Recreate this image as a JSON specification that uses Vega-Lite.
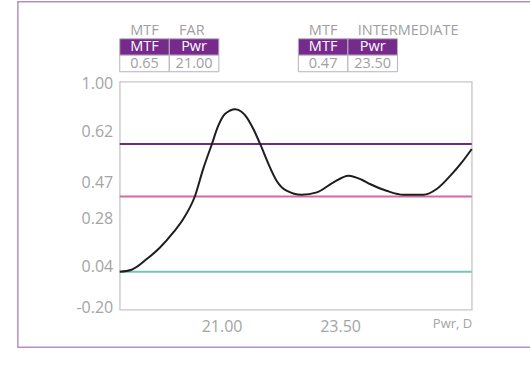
{
  "$schema": "https://vega.github.io/schema/vega-lite/v6.json",
  "padding": {"left": 15.75, "top": 0.25, "right": 0, "bottom": 0},
  "bounds": "flush",
  "spacing": 9.5,
  "config": {
    "font": "Open Sans",
    "view": {"stroke": "#c6c6c6", "strokeWidth": 1.3},
    "axis": {"grid": false, "ticks": false, "domain": false, "labelColor": "#a4a4a4", "labelFontSize": 16, "labelFont": "Open Sans", "labelFlush": false}
  },
  "datasets": {
    "tables": [
      {"table": "FAR", "col": "MTF", "row": "title", "label": "MTF"},
      {"table": "FAR", "col": "Pwr", "row": "title", "label": "FAR"},
      {"table": "FAR", "col": "MTF", "row": "head", "label": "MTF"},
      {"table": "FAR", "col": "Pwr", "row": "head", "label": "Pwr"},
      {"table": "FAR", "col": "MTF", "row": "value", "label": "0.65"},
      {"table": "FAR", "col": "Pwr", "row": "value", "label": "21.00"},
      {"table": "INTERMEDIATE", "col": "MTF", "row": "title", "label": "MTF"},
      {"table": "INTERMEDIATE", "col": "Pwr", "row": "title", "label": "INTERMEDIATE"},
      {"table": "INTERMEDIATE", "col": "MTF", "row": "head", "label": "MTF"},
      {"table": "INTERMEDIATE", "col": "Pwr", "row": "head", "label": "Pwr"},
      {"table": "INTERMEDIATE", "col": "MTF", "row": "value", "label": "0.47"},
      {"table": "INTERMEDIATE", "col": "Pwr", "row": "value", "label": "23.50"}
    ],
    "levels": [
      {"level": "far", "mtf": 0.678},
      {"level": "intermediate", "mtf": 0.396},
      {"level": "near", "mtf": -0.008}
    ],
    "curve": [
      {"pwr": 18.85, "mtf": -0.008},
      {"pwr": 19.10, "mtf": 0.003},
      {"pwr": 19.42, "mtf": 0.060},
      {"pwr": 19.70, "mtf": 0.122},
      {"pwr": 19.98, "mtf": 0.203},
      {"pwr": 20.19, "mtf": 0.275},
      {"pwr": 20.44, "mtf": 0.400},
      {"pwr": 20.61, "mtf": 0.543},
      {"pwr": 20.79, "mtf": 0.674},
      {"pwr": 20.93, "mtf": 0.776},
      {"pwr": 21.07, "mtf": 0.839},
      {"pwr": 21.29, "mtf": 0.865},
      {"pwr": 21.42, "mtf": 0.851},
      {"pwr": 21.53, "mtf": 0.821},
      {"pwr": 21.67, "mtf": 0.758},
      {"pwr": 21.82, "mtf": 0.674},
      {"pwr": 21.99, "mtf": 0.570},
      {"pwr": 22.16, "mtf": 0.481},
      {"pwr": 22.37, "mtf": 0.427},
      {"pwr": 22.69, "mtf": 0.405},
      {"pwr": 23.01, "mtf": 0.418},
      {"pwr": 23.36, "mtf": 0.472},
      {"pwr": 23.68, "mtf": 0.508},
      {"pwr": 23.96, "mtf": 0.486},
      {"pwr": 24.13, "mtf": 0.463},
      {"pwr": 24.48, "mtf": 0.427},
      {"pwr": 24.84, "mtf": 0.405},
      {"pwr": 25.26, "mtf": 0.405},
      {"pwr": 25.54, "mtf": 0.436},
      {"pwr": 25.83, "mtf": 0.508},
      {"pwr": 26.07, "mtf": 0.579},
      {"pwr": 26.28, "mtf": 0.651}
    ]
  },
  "vconcat": [
    {
      "width": 277.7,
      "height": 49.5,
      "view": {"stroke": null},
      "data": {"name": "tables"},
      "encoding": {
        "x": {"field": "table", "type": "nominal", "scale": {"domain": ["FAR", "INTERMEDIATE"], "paddingInner": 0.445, "paddingOuter": 0}, "axis": null},
        "xOffset": {"field": "col", "type": "nominal", "scale": {"domain": ["MTF", "Pwr"], "paddingInner": 0, "paddingOuter": 0}},
        "y": {"field": "row", "type": "nominal", "scale": {"domain": ["title", "head", "value"], "paddingInner": 0, "paddingOuter": 0}, "axis": null}
      },
      "layer": [
        {
          "transform": [{"filter": "datum.row !== 'title'"}],
          "mark": {"type": "rect", "stroke": "#b9b0be", "strokeWidth": 1},
          "encoding": {
            "fill": {"condition": {"test": "datum.row === 'head'", "value": "#762a8c"}, "value": "#ffffff"}
          }
        },
        {
          "transform": [{"filter": "!(datum.row === 'title' && datum.col === 'Pwr')"}],
          "mark": {"type": "text", "fontSize": 14.5},
          "encoding": {
            "text": {"field": "label"},
            "color": {"condition": {"test": "datum.row === 'head'", "value": "#ffffff"}, "value": "#a0a0a0"}
          }
        },
        {
          "transform": [{"filter": "datum.row === 'title' && datum.col === 'Pwr'"}],
          "mark": {"type": "text", "fontSize": 14.5, "align": "left", "dx": -15, "color": "#a0a0a0"},
          "encoding": {"text": {"field": "label"}}
        }
      ]
    },
    {
      "width": 352,
      "height": 228,
      "layer": [
        {
          "data": {"values": [{}]},
          "mark": {"type": "rect", "filled": false, "stroke": "#b48fc6", "strokeWidth": 1.5},
          "encoding": {
            "x": {"datum": 16.70, "type": "quantitative", "scale": {"domain": [18.85, 26.28], "nice": false, "zero": false},
              "axis": {"values": [21, 23.5], "format": ".2f", "labelPadding": 9, "title": "Pwr, D", "titleAnchor": "end", "titleAlign": "right", "titleFontSize": 13, "titleFontWeight": "normal", "titleColor": "#a4a4a4", "titleFont": "Open Sans", "titleY": 17.5, "titleBaseline": "alphabetic"}},
            "x2": {"datum": 27.53},
            "y": {"datum": 1.441, "type": "quantitative", "scale": {"domain": [-0.212, 1.012], "nice": false, "zero": false},
              "axis": {"values": [1.0, 0.744, 0.47, 0.28, 0.019, -0.2], "labelExpr": "datum.value > 0.7 && datum.value < 0.8 ? '0.62' : (datum.value > 0 && datum.value < 0.03 ? '0.04' : (datum.value < -0.1 ? '-0.20' : format(datum.value, '.2f')))", "labelPadding": 7, "title": null}},
            "y2": {"datum": -0.413}
          }
        },
        {
          "data": {"name": "levels"},
          "mark": {"type": "rule", "strokeWidth": 2},
          "encoding": {
            "y": {"field": "mtf", "type": "quantitative", "scale": {"domain": [-0.212, 1.012], "nice": false, "zero": false},
              "axis": {"values": [1.0, 0.744, 0.47, 0.28, 0.019, -0.2], "labelExpr": "datum.value > 0.7 && datum.value < 0.8 ? '0.62' : (datum.value > 0 && datum.value < 0.03 ? '0.04' : (datum.value < -0.1 ? '-0.20' : format(datum.value, '.2f')))", "labelPadding": 7, "title": null}},
            "color": {"field": "level", "type": "nominal", "scale": {"domain": ["far", "intermediate", "near"], "range": ["#6b2b86", "#d7689f", "#76c3ba"]}, "legend": null}
          }
        },
        {
          "data": {"name": "curve"},
          "mark": {"type": "line", "interpolate": "monotone", "color": "#1e1e1e", "strokeWidth": 2},
          "encoding": {
            "x": {
              "field": "pwr", "type": "quantitative",
              "scale": {"domain": [18.85, 26.28], "nice": false, "zero": false},
              "axis": {"values": [21, 23.5], "format": ".2f", "labelPadding": 9, "title": "Pwr, D", "titleAnchor": "end", "titleAlign": "right", "titleFontSize": 13, "titleFontWeight": "normal", "titleColor": "#a4a4a4", "titleFont": "Open Sans", "titleY": 17.5, "titleBaseline": "alphabetic"}
            },
            "y": {
              "field": "mtf", "type": "quantitative",
              "scale": {"domain": [-0.212, 1.012], "nice": false, "zero": false},
              "axis": {"values": [1.0, 0.744, 0.47, 0.28, 0.019, -0.2], "labelExpr": "datum.value > 0.7 && datum.value < 0.8 ? '0.62' : (datum.value > 0 && datum.value < 0.03 ? '0.04' : (datum.value < -0.1 ? '-0.20' : format(datum.value, '.2f')))", "labelPadding": 7, "title": null}
            }
          }
        }
      ]
    }
  ]
}
